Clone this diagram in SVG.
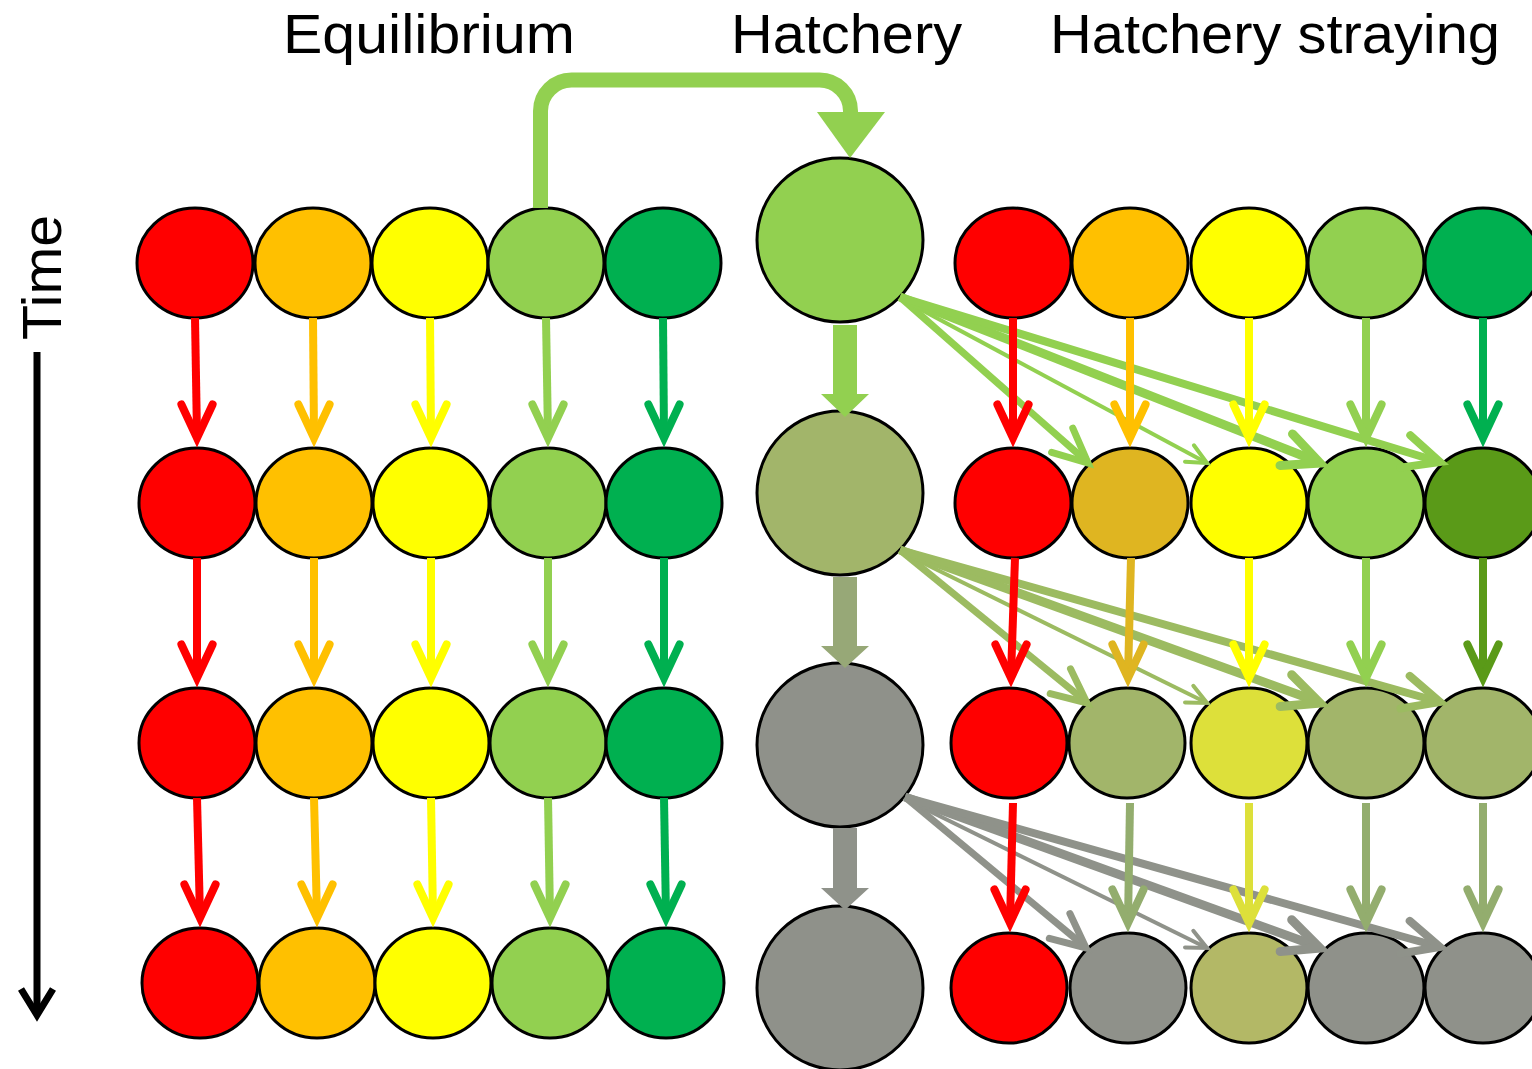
<svg xmlns="http://www.w3.org/2000/svg" width="1532" height="1069" viewBox="0 0 1532 1069">
<style>
.t{font-family:"Liberation Sans",Arial,sans-serif;font-size:56px;fill:#000}
.n{stroke:#000;stroke-width:3}
.R{fill:#FF0000}.O{fill:#FFC000}.Y{fill:#FFFF00}.LG{fill:#92D050}.G{fill:#00B050}
.GD{fill:#DFB521}.DG{fill:#5A9A18}.OL{fill:#A2B56A}.YL{fill:#DDE03A}.GR{fill:#8F918A}.OY{fill:#B3B866}
.s{fill:none;stroke-width:8;stroke-linecap:butt}
.h{fill:none;stroke-width:8;stroke-linecap:round;stroke-linejoin:miter;stroke-miterlimit:10}
.sR{stroke:#FF0000}.sO{stroke:#FFC000}.sY{stroke:#FFFF00}.sLG{stroke:#92D050}.sG{stroke:#00B050}
.sGD{stroke:#DFB521}.sDG{stroke:#5A9A18}.sOL{stroke:#93AD6E}.sYL{stroke:#DDE03A}
.st1{stroke:#92D050}.st2{stroke:#9CBB61}.st3{stroke:#8F928A}
</style>

<g id="titles">
<text class="t" x="283" y="53" textLength="292" lengthAdjust="spacingAndGlyphs">Equilibrium</text>
<text class="t" x="731" y="53" textLength="231" lengthAdjust="spacingAndGlyphs">Hatchery</text>
<text class="t" x="1050" y="53" textLength="450" lengthAdjust="spacingAndGlyphs">Hatchery straying</text>
<text class="t" transform="translate(61,340) rotate(-90)" textLength="125" lengthAdjust="spacingAndGlyphs">Time</text>
</g>

<g id="time-axis">
<path d="M37,352 V1012" fill="none" stroke="#000" stroke-width="7"/>
<path d="M21,989 L37,1015 L53,989" fill="none" stroke="#000" stroke-width="7" stroke-linejoin="miter"/>
</g>

<!-- Equilibrium nodes -->
<g id="eq-r1-c1"><ellipse class="n R" cx="195" cy="263" rx="58" ry="55"/></g>
<g id="eq-r1-c2"><ellipse class="n O" cx="313" cy="263" rx="58" ry="55"/></g>
<g id="eq-r1-c3"><ellipse class="n Y" cx="430" cy="263" rx="58" ry="55"/></g>
<g id="eq-r1-c4"><ellipse class="n LG" cx="546" cy="263" rx="58" ry="55"/></g>
<g id="eq-r1-c5"><ellipse class="n G" cx="663" cy="263" rx="58" ry="55"/></g>
<g id="eq-r2-c1"><ellipse class="n R" cx="197" cy="503" rx="58" ry="55"/></g>
<g id="eq-r2-c2"><ellipse class="n O" cx="314" cy="503" rx="58" ry="55"/></g>
<g id="eq-r2-c3"><ellipse class="n Y" cx="431" cy="503" rx="58" ry="55"/></g>
<g id="eq-r2-c4"><ellipse class="n LG" cx="548" cy="503" rx="58" ry="55"/></g>
<g id="eq-r2-c5"><ellipse class="n G" cx="664" cy="503" rx="58" ry="55"/></g>
<g id="eq-r3-c1"><ellipse class="n R" cx="197" cy="743" rx="58" ry="55"/></g>
<g id="eq-r3-c2"><ellipse class="n O" cx="314" cy="743" rx="58" ry="55"/></g>
<g id="eq-r3-c3"><ellipse class="n Y" cx="431" cy="743" rx="58" ry="55"/></g>
<g id="eq-r3-c4"><ellipse class="n LG" cx="548" cy="743" rx="58" ry="55"/></g>
<g id="eq-r3-c5"><ellipse class="n G" cx="664" cy="743" rx="58" ry="55"/></g>
<g id="eq-r4-c1"><ellipse class="n R" cx="200" cy="983" rx="58" ry="55"/></g>
<g id="eq-r4-c2"><ellipse class="n O" cx="317" cy="983" rx="58" ry="55"/></g>
<g id="eq-r4-c3"><ellipse class="n Y" cx="433" cy="983" rx="58" ry="55"/></g>
<g id="eq-r4-c4"><ellipse class="n LG" cx="550" cy="983" rx="58" ry="55"/></g>
<g id="eq-r4-c5"><ellipse class="n G" cx="666" cy="983" rx="58" ry="55"/></g>

<!-- Hatchery nodes -->
<g id="hat-r1"><ellipse class="n LG" cx="840" cy="240" rx="83" ry="82"/></g>
<g id="hat-r2"><ellipse class="n OL" cx="840" cy="493" rx="83" ry="82"/></g>
<g id="hat-r3"><ellipse class="n GR" cx="840" cy="745" rx="83" ry="82"/></g>
<g id="hat-r4"><ellipse class="n GR" cx="840" cy="988" rx="83" ry="82"/></g>

<!-- Straying nodes -->
<g id="st-r1-c1"><ellipse class="n R" cx="1013" cy="263" rx="58" ry="55"/></g>
<g id="st-r1-c2"><ellipse class="n O" cx="1130" cy="263" rx="58" ry="55"/></g>
<g id="st-r1-c3"><ellipse class="n Y" cx="1249" cy="263" rx="58" ry="55"/></g>
<g id="st-r1-c4"><ellipse class="n LG" cx="1366" cy="263" rx="58" ry="55"/></g>
<g id="st-r1-c5"><ellipse class="n G" cx="1483" cy="263" rx="58" ry="55"/></g>
<g id="st-r2-c1"><ellipse class="n R" cx="1013" cy="503" rx="58" ry="55"/></g>
<g id="st-r2-c2"><ellipse class="n GD" cx="1130" cy="503" rx="58" ry="55"/></g>
<g id="st-r2-c3"><ellipse class="n Y" cx="1249" cy="503" rx="58" ry="55"/></g>
<g id="st-r2-c4"><ellipse class="n LG" cx="1366" cy="503" rx="58" ry="55"/></g>
<g id="st-r2-c5"><ellipse class="n DG" cx="1483" cy="503" rx="58" ry="55"/></g>
<g id="st-r3-c1"><ellipse class="n R" cx="1009" cy="743" rx="58" ry="55"/></g>
<g id="st-r3-c2"><ellipse class="n OL" cx="1127" cy="743" rx="58" ry="55"/></g>
<g id="st-r3-c3"><ellipse class="n YL" cx="1249" cy="743" rx="58" ry="55"/></g>
<g id="st-r3-c4"><ellipse class="n OL" cx="1366" cy="743" rx="58" ry="55"/></g>
<g id="st-r3-c5"><ellipse class="n OL" cx="1483" cy="743" rx="58" ry="55"/></g>
<g id="st-r4-c1"><ellipse class="n R" cx="1009" cy="988" rx="58" ry="55"/></g>
<g id="st-r4-c2"><ellipse class="n GR" cx="1128" cy="988" rx="58" ry="55"/></g>
<g id="st-r4-c3"><ellipse class="n OY" cx="1249" cy="988" rx="58" ry="55"/></g>
<g id="st-r4-c4"><ellipse class="n GR" cx="1366" cy="988" rx="58" ry="55"/></g>
<g id="st-r4-c5"><ellipse class="n GR" cx="1483" cy="988" rx="58" ry="55"/></g>

<g id="connectors">
<!-- hatchery straying row 1 -->
<path class="s st1" style="stroke-width:7" d="M900,297 L1085,460"/><path class="h st1" style="stroke-width:7" d="M1072.8,428.2 L1088,463 L1051.6,452.3"/>
<path class="s st1" style="stroke-width:4" d="M905,301 L1205,462"/><path class="h st1" style="stroke-width:4" d="M1193.9,445.3 L1207,463 L1185,461.7"/>
<path class="s st1" style="stroke-width:9" d="M900,297 L1316,461"/><path class="h st1" style="stroke-width:9" d="M1292.5,433.9 L1320,463 L1280,465.4"/>
<path class="s st1" d="M900,297 L1436,461"/><path class="h st1" d="M1410.3,435.2 L1440,462 L1400.4,467.6"/>

<!-- hatchery straying row 2 -->
<path class="s st2" style="stroke-width:7" d="M900,550 L1084,700"/><path class="h st2" style="stroke-width:7" d="M1070.5,668.8 L1087,703 L1050.2,693.6"/>
<path class="s st2" style="stroke-width:4" d="M905,554 L1205,702"/><path class="h st2" style="stroke-width:4" d="M1193.3,685.8 L1207,703 L1185,702.4"/>
<path class="s st2" style="stroke-width:9" d="M900,550 L1316,701"/><path class="h st2" style="stroke-width:9" d="M1291.7,674.7 L1320,703 L1280.2,706.5"/>
<path class="s st2" d="M900,550 L1436,701"/><path class="h st2" d="M1409.7,675.9 L1440,702 L1400.5,708.5"/>

<!-- hatchery straying row 3 -->
<path class="s st3" style="stroke-width:7" d="M905,797 L1083,945"/><path class="h st3" style="stroke-width:7" d="M1069.9,913.6 L1086,948 L1049.3,938.3"/>
<path class="s st3" style="stroke-width:4" d="M909,801 L1205,947"/><path class="h st3" style="stroke-width:4" d="M1193.3,930.8 L1207,948 L1185,947.4"/>
<path class="s st3" style="stroke-width:9" d="M905,797 L1316,946"/><path class="h st3" style="stroke-width:9" d="M1291.7,919.7 L1320,948 L1280.2,951.5"/>
<path class="s st3" d="M905,797 L1436,946"/><path class="h st3" d="M1409.7,920.9 L1440,947 L1400.5,953.5"/>

<!-- equilibrium to hatchery -->
<path d="M540.5,208 V111 A31,31 0 0 1 571.5,80 H819.5 A31,31 0 0 1 850.5,111 V114" fill="none" stroke="#92D050" stroke-width="15"/>
<polygon points="817,112 885,112 850,158" fill="#92D050"/>

<!-- equilibrium verticals -->
<path class="s sR" d="M195,318 L197,436"/><path class="h sR" d="M181.4,404.5 L197,438 L212.6,404.5"/>
<path class="s sO" d="M313,318 L314,436"/><path class="h sO" d="M298.4,404.5 L314,438 L329.6,404.5"/>
<path class="s sY" d="M430,318 L431,436"/><path class="h sY" d="M415.4,404.5 L431,438 L446.6,404.5"/>
<path class="s sLG" d="M546,318 L548,436"/><path class="h sLG" d="M532.4,404.5 L548,438 L563.6,404.5"/>
<path class="s sG" d="M663,318 L664,436"/><path class="h sG" d="M648.4,404.5 L664,438 L679.6,404.5"/>

<path class="s sR" d="M197,558 L197,676"/><path class="h sR" d="M181.4,644.5 L197,678 L212.6,644.5"/>
<path class="s sO" d="M314,558 L314,676"/><path class="h sO" d="M298.4,644.5 L314,678 L329.6,644.5"/>
<path class="s sY" d="M431,558 L431,676"/><path class="h sY" d="M415.4,644.5 L431,678 L446.6,644.5"/>
<path class="s sLG" d="M548,558 L548,676"/><path class="h sLG" d="M532.4,644.5 L548,678 L563.6,644.5"/>
<path class="s sG" d="M664,558 L664,676"/><path class="h sG" d="M648.4,644.5 L664,678 L679.6,644.5"/>

<path class="s sR" d="M197,798 L200,916"/><path class="h sR" d="M184.4,884.5 L200,918 L215.6,884.5"/>
<path class="s sO" d="M314,798 L317,916"/><path class="h sO" d="M301.4,884.5 L317,918 L332.6,884.5"/>
<path class="s sY" d="M431,798 L433,916"/><path class="h sY" d="M417.4,884.5 L433,918 L448.6,884.5"/>
<path class="s sLG" d="M548,798 L550,916"/><path class="h sLG" d="M534.4,884.5 L550,918 L565.6,884.5"/>
<path class="s sG" d="M664,798 L666,916"/><path class="h sG" d="M650.4,884.5 L666,918 L681.6,884.5"/>

<!-- hatchery verticals -->
<polygon points="833,325 857,325 857,394 869,394 845,417 821,394 833,394" fill="#92D050"/>
<polygon points="833,577 857,577 857,646 869,646 845,668 821,646 833,646" fill="#97A877"/>
<polygon points="833,828 857,828 857,888 869,888 845,910 821,888 833,888" fill="#8F928A"/>

<!-- straying verticals -->
<path class="s sR" d="M1013,318 L1013,436"/><path class="h sR" d="M997.4,404.5 L1013,438 L1028.6,404.5"/>
<path class="s sO" d="M1130,318 L1130,436"/><path class="h sO" d="M1114.4,404.5 L1130,438 L1145.6,404.5"/>
<path class="s sY" d="M1249,318 L1249,436"/><path class="h sY" d="M1233.4,404.5 L1249,438 L1264.6,404.5"/>
<path class="s sLG" d="M1366,318 L1366,436"/><path class="h sLG" d="M1350.4,404.5 L1366,438 L1381.6,404.5"/>
<path class="s sG" d="M1483,318 L1483,436"/><path class="h sG" d="M1467.4,404.5 L1483,438 L1498.6,404.5"/>

<path class="s sR" d="M1015,558 L1011,676"/><path class="h sR" d="M995.4,644.5 L1011,678 L1026.6,644.5"/>
<path class="s sGD" d="M1131,558 L1128,676"/><path class="h sGD" d="M1112.4,644.5 L1128,678 L1143.6,644.5"/>
<path class="s sY" d="M1249,558 L1249,676"/><path class="h sY" d="M1233.4,644.5 L1249,678 L1264.6,644.5"/>
<path class="s sLG" d="M1366,558 L1366,676"/><path class="h sLG" d="M1350.4,644.5 L1366,678 L1381.6,644.5"/>
<path class="s sDG" d="M1483,558 L1483,676"/><path class="h sDG" d="M1467.4,644.5 L1483,678 L1498.6,644.5"/>

<path class="s sR" d="M1013,803 L1010,921"/><path class="h sR" d="M994.4,889.5 L1010,923 L1025.6,889.5"/>
<path class="s sOL" d="M1130,803 L1128,921"/><path class="h sOL" d="M1112.4,889.5 L1128,923 L1143.6,889.5"/>
<path class="s sYL" d="M1249,803 L1249,921"/><path class="h sYL" d="M1233.4,889.5 L1249,923 L1264.6,889.5"/>
<path class="s sOL" d="M1366,803 L1366,921"/><path class="h sOL" d="M1350.4,889.5 L1366,923 L1381.6,889.5"/>
<path class="s sOL" d="M1483,803 L1483,921"/><path class="h sOL" d="M1467.4,889.5 L1483,923 L1498.6,889.5"/>
</g>
</svg>
